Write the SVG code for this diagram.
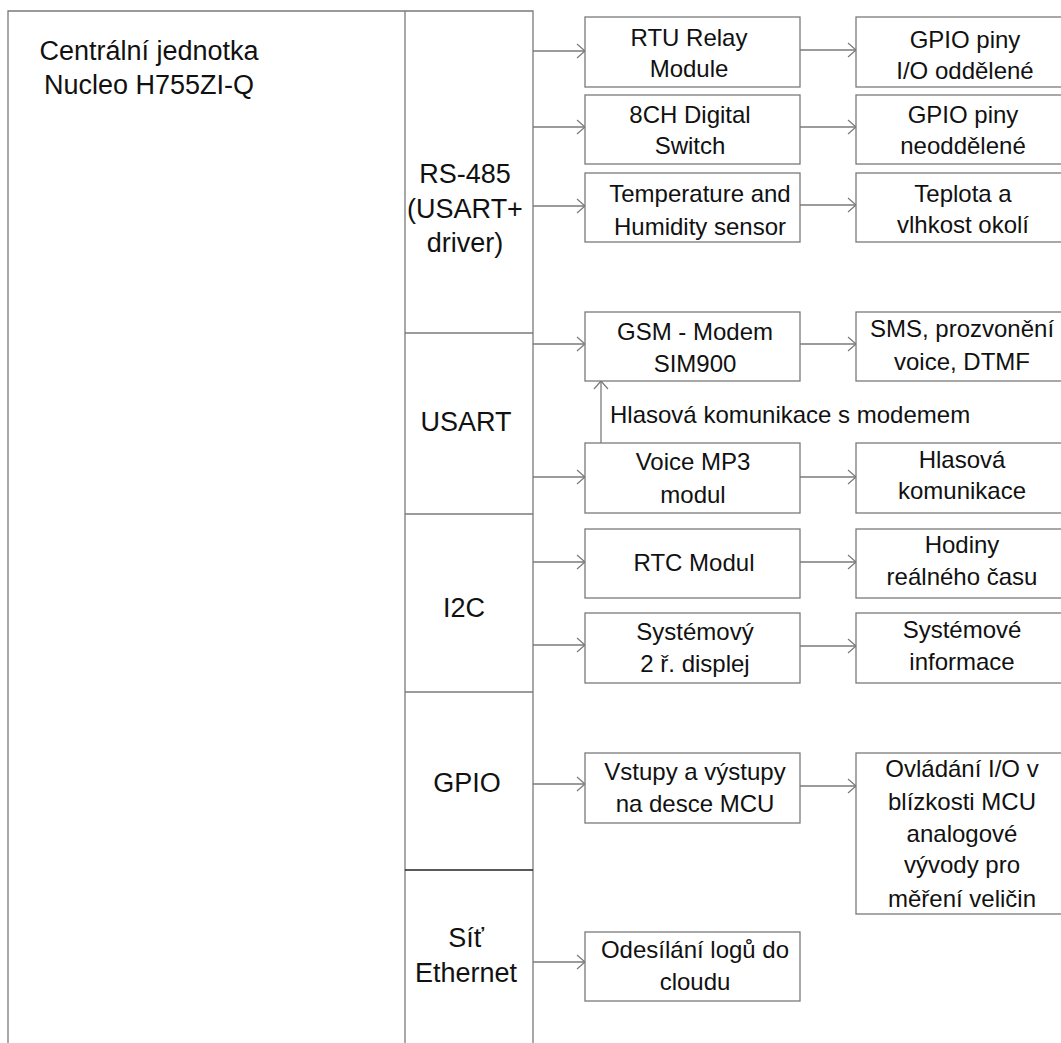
<svg xmlns="http://www.w3.org/2000/svg" width="1061" height="1043" viewBox="0 0 1061 1043">
<defs>
<marker id="arr" markerUnits="userSpaceOnUse" markerWidth="12" markerHeight="18" refX="9" refY="9" orient="auto">
<path d="M1,2 L9,9 L1,16" fill="none" stroke="#7a7a7a" stroke-width="1.2"/>
</marker>
</defs>
<style>
.frame{fill:none;stroke:#7a7a7a;stroke-width:1.3}
.box{fill:#fff;stroke:#7a7a7a;stroke-width:1.3}
.con{fill:none;stroke:#7a7a7a;stroke-width:1.3;marker-end:url(#arr)}
text{font-family:"Liberation Sans",Arial,sans-serif;fill:#111}
.big{font-size:27px;text-anchor:middle}
.t{font-size:24px;text-anchor:middle}
.lbl{font-size:24px;text-anchor:start}
</style>
<rect width="1061" height="1043" fill="#fff"/>

<g id="central">
<path class="frame" d="M8,1045 V11 H533 V1045"/>
<line class="frame" x1="405" y1="11" x2="405" y2="1045"/>
<text class="big" x="149" y="60">Centrální jednotka<tspan x="149" y="94">Nucleo H755ZI-Q</tspan></text>
</g>

<g id="rs485">
<text class="big" x="465" y="183">RS-485<tspan x="465" y="218">(USART+</tspan><tspan x="465" y="252">driver)</tspan></text>
</g>
<g id="usart">
<line class="frame" x1="405" y1="333" x2="533" y2="333"/>
<text class="big" x="466" y="431">USART</text>
</g>
<g id="i2c">
<line class="frame" x1="405" y1="514" x2="533" y2="514"/>
<text class="big" x="464" y="617">I2C</text>
</g>
<g id="gpio">
<line class="frame" x1="405" y1="692" x2="533" y2="692"/>
<text class="big" x="467" y="792">GPIO</text>
</g>
<g id="ethernet">
<line x1="405" y1="870" x2="533" y2="870" stroke="#222" stroke-width="1.3"/>
<text class="big" x="466" y="947">Síť<tspan x="466" y="982">Ethernet</tspan></text>
</g>

<g id="connectors">
<line class="con" x1="533" y1="51" x2="585" y2="51"/>
<line class="con" x1="533" y1="127" x2="585" y2="127"/>
<line class="con" x1="533" y1="206" x2="585" y2="206"/>
<line class="con" x1="533" y1="344" x2="585" y2="344"/>
<line class="con" x1="533" y1="477" x2="585" y2="477"/>
<line class="con" x1="533" y1="562" x2="585" y2="562"/>
<line class="con" x1="533" y1="645" x2="585" y2="645"/>
<line class="con" x1="533" y1="784" x2="585" y2="784"/>
<line class="con" x1="533" y1="962" x2="585" y2="962"/>
<line class="con" x1="800" y1="50" x2="856" y2="50"/>
<line class="con" x1="800" y1="127" x2="856" y2="127"/>
<line class="con" x1="800" y1="205" x2="856" y2="205"/>
<line class="con" x1="800" y1="344" x2="856" y2="344"/>
<line class="con" x1="800" y1="477" x2="856" y2="477"/>
<line class="con" x1="800" y1="562" x2="856" y2="562"/>
<line class="con" x1="800" y1="646" x2="856" y2="646"/>
<line class="con" x1="800" y1="786" x2="856" y2="786"/>
<line class="con" x1="601" y1="443" x2="601" y2="381"/>
<text class="lbl" x="610" y="423">Hlasová komunikace s modemem</text>
</g>

<g id="rtu"><rect class="box" x="585" y="17" width="215" height="70"/>
<text class="t" x="689" y="46">RTU Relay<tspan x="689" y="77">Module</tspan></text></g>
<g id="ch8"><rect class="box" x="585" y="95" width="215" height="69"/>
<text class="t" x="690" y="123">8CH Digital<tspan x="690" y="154">Switch</tspan></text></g>
<g id="temp"><rect class="box" x="585" y="173" width="215" height="69"/>
<text class="t" x="700" y="202">Temperature and<tspan x="700" y="235">Humidity sensor</tspan></text></g>
<g id="gsm"><rect class="box" x="585" y="312" width="215" height="69"/>
<text class="t" x="695" y="340">GSM - Modem<tspan x="695" y="372">SIM900</tspan></text></g>
<g id="voice"><rect class="box" x="585" y="443" width="215" height="70"/>
<text class="t" x="693" y="470">Voice MP3<tspan x="693" y="503">modul</tspan></text></g>
<g id="rtc"><rect class="box" x="585" y="529" width="215" height="69"/>
<text class="t" x="694" y="571">RTC Modul</text></g>
<g id="display"><rect class="box" x="585" y="613" width="215" height="70"/>
<text class="t" x="695" y="640">Systémový<tspan x="695" y="672">2 ř. displej</tspan></text></g>
<g id="io"><rect class="box" x="585" y="753" width="215" height="70"/>
<text class="t" x="695" y="780">Vstupy a výstupy<tspan x="695" y="812">na desce MCU</tspan></text></g>
<g id="cloud"><rect class="box" x="585" y="932" width="215" height="69"/>
<text class="t" x="695" y="958">Odesílání logů do<tspan x="695" y="990">cloudu</tspan></text></g>

<g id="gpio1"><rect class="box" x="856" y="17" width="220" height="70"/>
<text class="t" x="965" y="48">GPIO piny<tspan x="965" y="79">I/O oddělené</tspan></text></g>
<g id="gpio2"><rect class="box" x="856" y="95" width="220" height="69"/>
<text class="t" x="963" y="123">GPIO piny<tspan x="963" y="154">neoddělené</tspan></text></g>
<g id="climate"><rect class="box" x="856" y="173" width="220" height="69"/>
<text class="t" x="963" y="202">Teplota a<tspan x="963" y="233">vlhkost okolí</tspan></text></g>
<g id="sms"><rect class="box" x="856" y="312" width="220" height="69"/>
<text class="t" x="962" y="337">SMS, prozvonění<tspan x="962" y="370">voice, DTMF</tspan></text></g>
<g id="speech"><rect class="box" x="856" y="443" width="220" height="70"/>
<text class="t" x="962" y="468">Hlasová<tspan x="962" y="499">komunikace</tspan></text></g>
<g id="clock"><rect class="box" x="856" y="529" width="220" height="69"/>
<text class="t" x="962" y="553">Hodiny<tspan x="962" y="585">reálného času</tspan></text></g>
<g id="sysinfo"><rect class="box" x="856" y="613" width="220" height="70"/>
<text class="t" x="962" y="638">Systémové<tspan x="962" y="670">informace</tspan></text></g>
<g id="control"><rect class="box" x="856" y="753" width="220" height="161"/>
<text class="t" x="962" y="777">Ovládání I/O v<tspan x="962" y="810">blízkosti MCU</tspan><tspan x="962" y="842">analogové</tspan><tspan x="962" y="873">vývody pro</tspan><tspan x="962" y="907">měření veličin</tspan></text></g>
</svg>
